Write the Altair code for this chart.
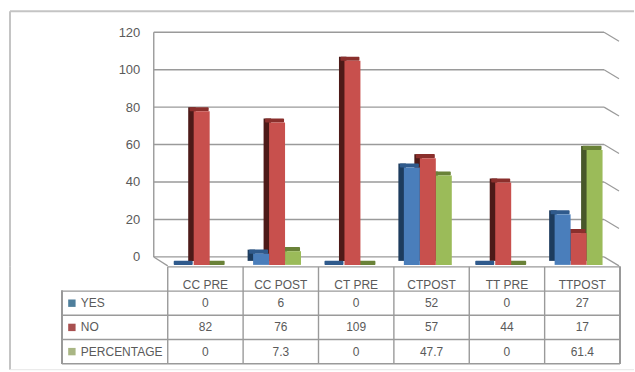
import altair as alt
import pandas as pd

categories = ["CC PRE", "CC POST", "CT PRE", "CTPOST", "TT PRE", "TTPOST"]
series_names = ["YES", "NO", "PERCENTAGE"]
yes_values = [0, 6, 0, 52, 0, 27]
no_values = [82, 76, 109, 57, 44, 17]
pct_values = [0, 7.3, 0, 47.7, 0, 61.4]
y_ticks = [0, 20, 40, 60, 80, 100, 120]

front = {"YES": "#4a7ebb", "NO": "#c8504d", "PERCENTAGE": "#9bbb59"}
side = {"YES": "#1d3c5e", "NO": "#4d1a18", "PERCENTAGE": "#47572a"}
cap = {"YES": "#2f5a8c", "NO": "#8a2f2c", "PERCENTAGE": "#6a8238"}
key_colors = ["#4f7f9c", "#a85050", "#a9b684"]

FONT = "Liberation Sans"
TEXT = "#5a5a5a"
LINE = "#9a9a9a"
FRAME = "#c4c4c4"

# horizontal units: one category is 1.0 wide, a bar about a fifth of that
BAR = 16 / 75.5
LEAD = 10 / 75.5
PX = 1 / 75.5

rows = []
for s, (name, vals) in enumerate(zip(series_names, [yes_values, no_values, pct_values])):
    for c, (cat, v) in enumerate(zip(categories, vals)):
        left = c + LEAD + s * BAR
        rows.append({"cat": cat, "series": name, "value": v, "cap": v + 2.2,
                     "label": str(v), "x0": left, "x1": left + BAR,
                     "side0": left - 5.5 * PX, "side1": left + 2 * PX,
                     "cap0": left - 4 * PX, "cap1": left + BAR - PX})
data = pd.DataFrame(rows)

x_scale = alt.Scale(domain=categories, range=[168, 621], paddingInner=0, paddingOuter=0)
x_enc = alt.X("cat:N", scale=x_scale, axis=None, sort=categories)
x_num = alt.Scale(domain=[0, 6], range=[168, 621])
y_scale = alt.Scale(domain=[0, 120], range=[257, 32])

ticks = pd.DataFrame({"t": y_ticks, "low": [t - 4.8 for t in y_ticks]})

# back wall gridlines and the short perspective ticks at their right end
grid = alt.Chart(ticks).mark_rule(color=LINE, strokeWidth=1.4).encode(
    y=alt.Y("t:Q", scale=y_scale, axis=alt.Axis(
        values=y_ticks, title=None, domain=False, ticks=False, grid=False, offset=-140,
        labelFont=FONT, labelFontSize=13, labelColor=TEXT, labelPadding=0)),
    x=alt.value(154), x2=alt.value(605))
slant = alt.Chart(ticks).mark_rule(color=LINE, strokeWidth=1.2).encode(
    y=alt.Y("t:Q", scale=y_scale), y2="low:Q", x=alt.value(605), x2=alt.value(620))
wall = alt.Chart(ticks).mark_rule(color=LINE, strokeWidth=1.4).encode(
    x=alt.value(154),
    y=alt.Y("min(t):Q", scale=y_scale), y2="max(t):Q")
floor_left = alt.Chart(ticks[ticks.t == 0]).mark_rule(color=LINE, strokeWidth=1.2).encode(
    y=alt.Y("t:Q", scale=y_scale), y2="low:Q", x=alt.value(154), x2=alt.value(168))

# outer frame of the chart area
frame_top = alt.Chart(ticks[ticks.t == 0]).mark_rule(color=FRAME, strokeWidth=2).encode(
    y=alt.value(11), x=alt.value(10), x2=alt.value(635))
frame_left = alt.Chart(ticks[ticks.t == 0]).mark_rule(color=FRAME, strokeWidth=2).encode(
    x=alt.value(10), y=alt.value(11), y2=alt.value(267))


def bars(name):
    sub = alt.Chart(data).transform_filter(alt.datum.series == name)
    depth = sub.mark_rect(color=side[name], yOffset=4, y2Offset=4).encode(
        x=alt.X("side0:Q", scale=x_num, axis=None), x2="side1:Q",
        y=alt.Y("value:Q", scale=y_scale), y2=alt.datum(0))
    top = sub.mark_rect(color=cap[name], yOffset=8, y2Offset=8, cornerRadius=1).encode(
        x=alt.X("cap0:Q", scale=x_num, axis=None), x2="cap1:Q",
        y=alt.Y("value:Q", scale=y_scale), y2="cap:Q")
    face = sub.mark_rect(color=front[name], yOffset=8, y2Offset=8).encode(
        x=alt.X("x0:Q", scale=x_num, axis=None), x2="x1:Q",
        y=alt.Y("value:Q", scale=y_scale), y2=alt.datum(0))
    return depth + top + face


upper = alt.layer(
    frame_top, frame_left, grid, slant, wall, floor_left,
    bars("PERCENTAGE"), bars("NO"), bars("YES"),
).properties(width=635, height=267)

# data table under the plot
row_names = ["head"] + series_names
row_scale = alt.Scale(domain=row_names, range=[0, 97], paddingInner=0, paddingOuter=0)
y_row = alt.Y("row:N", scale=row_scale, axis=None, sort=row_names)

cells = alt.Chart(data.rename(columns={"series": "row"})).mark_text(
    font=FONT, fontSize=12, color=TEXT).encode(x=x_enc, y=y_row, text="label:N")
heads = alt.Chart(pd.DataFrame({"cat": categories, "row": "head"})).mark_text(
    font=FONT, fontSize=12, color=TEXT, yOffset=6).encode(x=x_enc, y=y_row, text="cat:N")
names = alt.Chart(pd.DataFrame({"row": series_names})).mark_text(
    font=FONT, fontSize=12, color=TEXT, align="left").encode(
    x=alt.value(81), y=y_row, text="row:N")
keys = alt.Chart(pd.DataFrame({"row": series_names})).mark_square(size=55, opacity=1).encode(
    x=alt.value(72), y=y_row,
    color=alt.Color("row:N", legend=None, scale=alt.Scale(
        domain=series_names, range=key_colors)))

col_edges = pd.DataFrame({"cat": categories})
col_lines = alt.Chart(col_edges).mark_rule(color=LINE, strokeWidth=1.4).encode(
    x=alt.X("cat:N", scale=x_scale, axis=None, sort=categories, bandPosition=0),
    y=alt.value(0), y2=alt.value(97))
col_last = alt.Chart(col_edges).mark_rule(color=LINE, strokeWidth=1.4).encode(
    x=alt.value(621), y=alt.value(0), y2=alt.value(97))
col_left = alt.Chart(col_edges).mark_rule(color=LINE, strokeWidth=1.4).encode(
    x=alt.value(62), y=alt.value(24), y2=alt.value(97))
row_lines = alt.Chart(pd.DataFrame({"row": series_names})).mark_rule(color=LINE, strokeWidth=1.4).encode(
    y=alt.Y("row:N", scale=row_scale, axis=None, sort=row_names, bandPosition=0),
    x=alt.value(62), x2=alt.value(621))
one = pd.DataFrame({"k": [0]})
row_end = alt.Chart(one).mark_rule(color=LINE, strokeWidth=1.4).encode(
    y=alt.value(97), x=alt.value(62), x2=alt.value(621))
row_top = alt.Chart(one).mark_rule(color=LINE, strokeWidth=1.4).encode(
    y=alt.value(0), x=alt.value(168), x2=alt.value(621))
frame_low = alt.Chart(one).mark_rule(color=FRAME, strokeWidth=2).encode(
    x=alt.value(10), y=alt.value(0), y2=alt.value(103))
frame_foot = alt.Chart(one).mark_rule(color="#e6e6e6", strokeWidth=1).encode(
    y=alt.value(103), x=alt.value(10), x2=alt.value(635))

lower = alt.layer(frame_low, frame_foot, col_lines, col_last, col_left, row_lines, row_end, row_top,
                  keys, cells, heads, names).properties(width=635, height=105)

chart = alt.vconcat(upper, lower, spacing=0, padding=0, bounds="flush").configure_view(stroke=None)
chart.save("out.html", embed_options={"renderer": "svg", "actions": False})
